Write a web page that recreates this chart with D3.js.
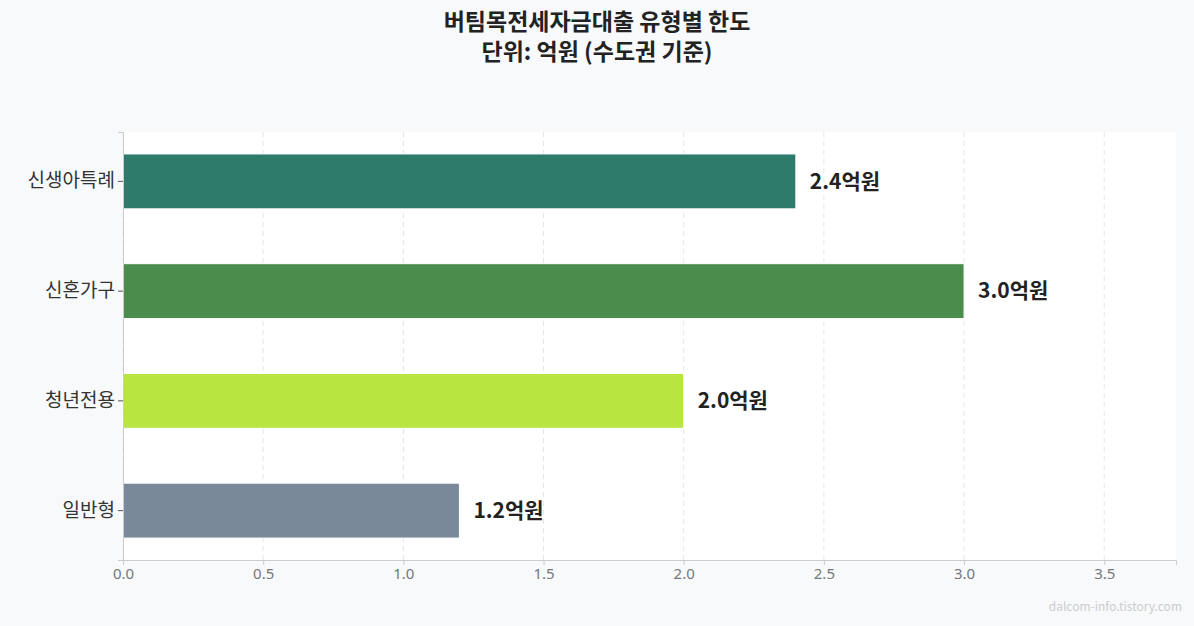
<!DOCTYPE html>
<html><head><meta charset="utf-8">
<script src="https://cdn.jsdelivr.net/npm/d3@7"></script>
<style>body{margin:0;background:#f8f9fa;font-family:"Noto Sans CJK KR","Noto Sans",sans-serif}</style>
</head><body><svg id="c" width="1194" height="626"></svg>
<script>
const categories=["신생아특례","신혼가구","청년전용","일반형"];
const values=[2.4,3.0,2.0,1.2];
const colors=["#2e7b6b","#4a8c4b","#b8e540","#7a8999"];
const ticks=[0,0.5,1,1.5,2,2.5,3,3.5];
const svg=d3.select("#c");
const L=123,R=1176,T=132,B=560;
svg.append("rect").attr("width",1194).attr("height",626).attr("fill","#f8f9fa");
svg.append("rect").attr("x",L).attr("y",T).attr("width",R-L).attr("height",B-T).attr("fill","#fff");
const x=d3.scaleLinear().domain([0,3.756]).range([L,R]);
const y=d3.scaleBand().domain(categories).range([T,B]).paddingInner(0.5).paddingOuter(0.2);
svg.selectAll(".g").data(ticks).join("line").attr("x1",d=>x(d)).attr("x2",d=>x(d)).attr("y1",T).attr("y2",B)
 .attr("stroke","#e6e6e6").attr("stroke-dasharray","5,4");
svg.selectAll(".b").data(values).join("rect").attr("x",x(0)).attr("y",(d,i)=>y(categories[i]))
 .attr("width",d=>x(d)-x(0)).attr("height",y.bandwidth()).attr("fill",(d,i)=>colors[i]).attr("stroke","#fff").attr("stroke-width",1);
svg.selectAll(".l").data(values).join("text").attr("x",d=>x(d)+14).attr("y",(d,i)=>y(categories[i])+y.bandwidth()/2)
 .attr("dy","0.35em").attr("font-size",21).attr("font-weight","bold").attr("fill","#222").text(d=>d.toFixed(1)+"억원");
const xa=svg.append("g").attr("transform",`translate(0,${B})`).call(d3.axisBottom(x).tickValues(ticks).tickFormat(d3.format(".1f")).tickSize(5));
xa.selectAll("text").attr("font-size",15).attr("fill","#777").attr("font-family","Noto Sans");
xa.selectAll("line,path").attr("stroke","#ccc");
const ya=svg.append("g").attr("transform",`translate(${L},0)`).call(d3.axisLeft(y).tickSize(5));
ya.selectAll("text").attr("font-size",19).attr("fill","#333").attr("font-family","Noto Sans CJK KR");
ya.selectAll("line").attr("stroke","#555");ya.select("path").attr("stroke","#ccc");
svg.append("text").attr("x",597).attr("y",30).attr("text-anchor","middle").attr("font-size",23).attr("font-weight","bold").attr("fill","#222").text("버팀목전세자금대출 유형별 한도");
svg.append("text").attr("x",597).attr("y",60).attr("text-anchor","middle").attr("font-size",23).attr("font-weight","bold").attr("fill","#222").text("단위: 억원 (수도권 기준)");
svg.append("text").attr("x",1182).attr("y",611).attr("text-anchor","end").attr("font-size",12).attr("fill","#ccc").text("dalcom-info.tistory.com");
</script></body></html>
